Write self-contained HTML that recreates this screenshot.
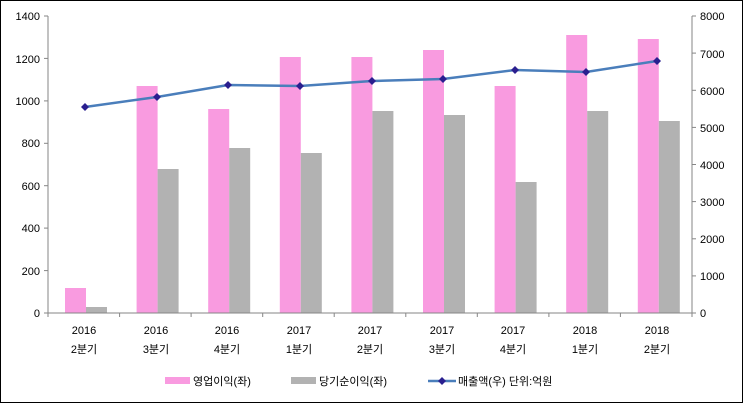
<!DOCTYPE html>
<html><head><meta charset="utf-8"><style>
body{margin:0;background:#fff}
text{font-family:"Liberation Sans","Noto Sans CJK KR",sans-serif;font-size:11px;fill:#000}
</style></head><body>
<svg width="743" height="403" xmlns="http://www.w3.org/2000/svg">
<rect x="0.5" y="0.5" width="742" height="402" fill="#fff" stroke="#000"/>
<g stroke="#868686" stroke-width="1">
<line x1="44" y1="313" x2="48" y2="313"/><line x1="44" y1="270.6" x2="48" y2="270.6"/><line x1="44" y1="228.1" x2="48" y2="228.1"/>
<line x1="44" y1="185.7" x2="48" y2="185.7"/><line x1="44" y1="143.3" x2="48" y2="143.3"/><line x1="44" y1="100.9" x2="48" y2="100.9"/>
<line x1="44" y1="58.4" x2="48" y2="58.4"/><line x1="44" y1="16" x2="48" y2="16"/>
<line x1="692" y1="313" x2="696" y2="313"/><line x1="692" y1="275.9" x2="696" y2="275.9"/><line x1="692" y1="238.8" x2="696" y2="238.8"/>
<line x1="692" y1="201.6" x2="696" y2="201.6"/><line x1="692" y1="164.5" x2="696" y2="164.5"/><line x1="692" y1="127.4" x2="696" y2="127.4"/>
<line x1="692" y1="90.3" x2="696" y2="90.3"/><line x1="692" y1="53.1" x2="696" y2="53.1"/><line x1="692" y1="16" x2="696" y2="16"/>
<line x1="48" y1="313" x2="48" y2="317"/><line x1="119.6" y1="313" x2="119.6" y2="317"/><line x1="191.1" y1="313" x2="191.1" y2="317"/>
<line x1="262.7" y1="313" x2="262.7" y2="317"/><line x1="334.2" y1="313" x2="334.2" y2="317"/><line x1="405.8" y1="313" x2="405.8" y2="317"/>
<line x1="477.3" y1="313" x2="477.3" y2="317"/><line x1="548.9" y1="313" x2="548.9" y2="317"/><line x1="620.4" y1="313" x2="620.4" y2="317"/>
<line x1="692" y1="313" x2="692" y2="317"/>
</g>
<g fill="#f99be0">
<rect x="65" y="288" width="21" height="25"/>
<rect x="136.6" y="86" width="21" height="227"/>
<rect x="208.2" y="109" width="21" height="204"/>
<rect x="279.8" y="57" width="21" height="256"/>
<rect x="351.4" y="57" width="21" height="256"/>
<rect x="423" y="50" width="21" height="263"/>
<rect x="494.6" y="86" width="21" height="227"/>
<rect x="566.2" y="35" width="21" height="278"/>
<rect x="637.8" y="39" width="21" height="274"/>
</g>
<g fill="#b2b2b2">
<rect x="86" y="307" width="21" height="6"/>
<rect x="157.6" y="169" width="21" height="144"/>
<rect x="229.2" y="148" width="21" height="165"/>
<rect x="300.8" y="153" width="21" height="160"/>
<rect x="372.4" y="111" width="21" height="202"/>
<rect x="444" y="115" width="21" height="198"/>
<rect x="515.6" y="182" width="21" height="131"/>
<rect x="587.2" y="111" width="21" height="202"/>
<rect x="658.8" y="121" width="21" height="192"/>
</g>
<g stroke="#868686">
<line x1="48" y1="16" x2="48" y2="313"/>
<line x1="692" y1="16" x2="692" y2="313"/>
<line x1="48" y1="313" x2="692" y2="313"/>
</g>
<polyline fill="none" stroke="#4a7ebb" stroke-width="2.5" points="85,107 157,97 228,85 300,86 372,81 443,79 515,70 586,72 657,61"/>
<g fill="#2a1f8f">
<path d="M85,103 l4,4 -4,4 -4,-4z"/><path d="M157,93 l4,4 -4,4 -4,-4z"/><path d="M228,81 l4,4 -4,4 -4,-4z"/>
<path d="M300,82 l4,4 -4,4 -4,-4z"/><path d="M372,77 l4,4 -4,4 -4,-4z"/><path d="M443,75 l4,4 -4,4 -4,-4z"/>
<path d="M515,66 l4,4 -4,4 -4,-4z"/><path d="M586,68 l4,4 -4,4 -4,-4z"/><path d="M657,57 l4,4 -4,4 -4,-4z"/>
</g>
<g text-anchor="end">
<text x="40" y="317">0</text><text x="40" y="275">200</text><text x="40" y="232">400</text>
<text x="40" y="190">600</text><text x="40" y="147">800</text><text x="40" y="105">1000</text>
<text x="40" y="63">1200</text><text x="40" y="20">1400</text>
</g>
<g text-anchor="start">
<text x="700" y="317">0</text><text x="700" y="280">1000</text><text x="700" y="243">2000</text>
<text x="700" y="206">3000</text><text x="700" y="169">4000</text><text x="700" y="132">5000</text>
<text x="700" y="95">6000</text><text x="700" y="58">7000</text><text x="700" y="20">8000</text>
</g>
<g text-anchor="middle">
<text x="84" y="334">2016</text><text x="84" y="353">2분기</text>
<text x="156" y="334">2016</text><text x="156" y="353">3분기</text>
<text x="227" y="334">2016</text><text x="227" y="353">4분기</text>
<text x="299" y="334">2017</text><text x="299" y="353">1분기</text>
<text x="370" y="334">2017</text><text x="370" y="353">2분기</text>
<text x="442" y="334">2017</text><text x="442" y="353">3분기</text>
<text x="513" y="334">2017</text><text x="513" y="353">4분기</text>
<text x="585" y="334">2018</text><text x="585" y="353">1분기</text>
<text x="657" y="334">2018</text><text x="657" y="353">2분기</text>
</g>
<rect x="165" y="377" width="25" height="7" fill="#f99be0"/>
<text x="193" y="385">영업이익(좌)</text>
<rect x="291" y="377" width="25" height="7" fill="#b2b2b2"/>
<text x="319" y="385">당기순이익(좌)</text>
<line x1="428" y1="381" x2="456" y2="381" stroke="#4a7ebb" stroke-width="2.5"/>
<path d="M442,377 l4,4 -4,4 -4,-4z" fill="#2a1f8f"/>
<text x="458" y="385">매출액(우)  단위:억원</text>
</svg>
</body></html>
